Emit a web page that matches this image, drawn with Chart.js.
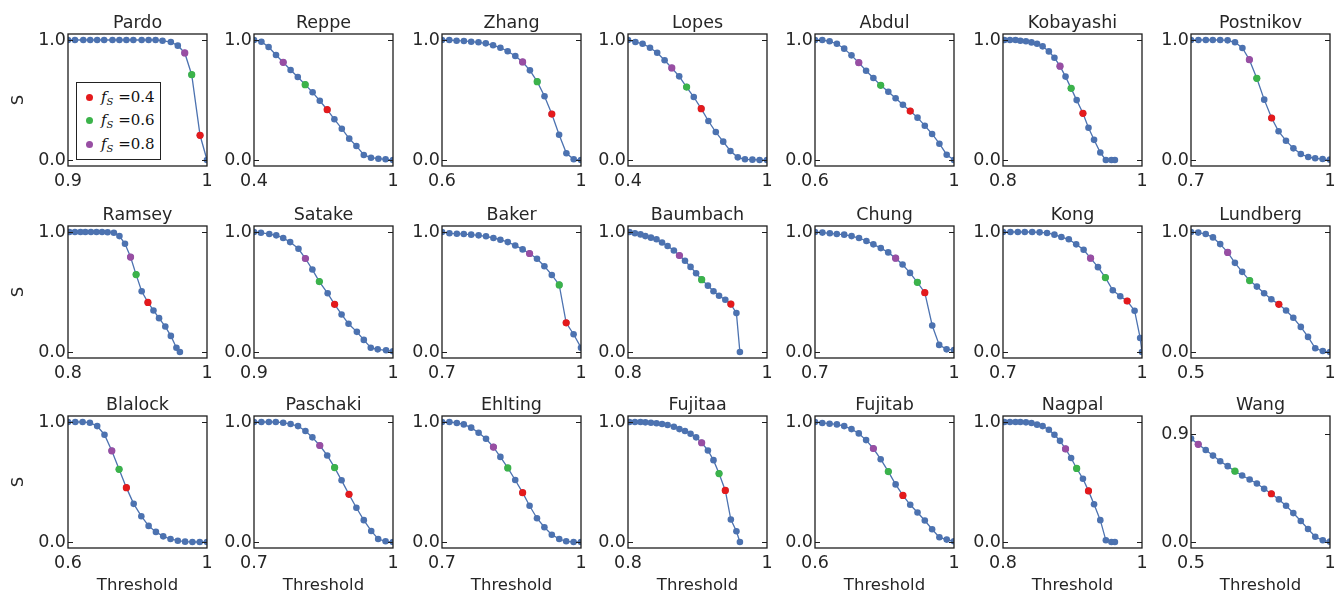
<!DOCTYPE html>
<html>
<head>
<meta charset="utf-8">
<script src="https://cdn.jsdelivr.net/npm/chart.js@4.4.0/dist/chart.umd.min.js"></script>
<style>
body { margin: 0; background: #fff; }
#fig { position: relative; width: 1336px; height: 594px; overflow: hidden; }
#fig canvas { position: absolute; }
.legend { position: absolute; left: 76px; top: 82px; width: 85px; height: 78px; box-sizing: border-box;
          border: 1px solid #222; background: #fff; font-family: "DejaVu Serif", serif; font-size: 15px; color: #111; z-index: 5; }
.legend .row { position: absolute; left: 0; height: 20px; line-height: 20px; white-space: nowrap; }
.legend .dot { position: absolute; left: 9px; top: 6.5px; width: 7px; height: 7px; border-radius: 50%; }
.legend .lab { position: absolute; left: 24px; }
.legend sub { font-size: 10px; font-style: italic; vertical-align: -3px; }
</style>
</head>
<body>
<div id="fig">
  <div class="legend">
    <div class="row" style="top:4px"><span class="dot" style="background:#e41a1c"></span><span class="lab"><i>f</i><sub>S</sub> =0.4</span></div>
    <div class="row" style="top:27px"><span class="dot" style="background:#3bb34a"></span><span class="lab"><i>f</i><sub>S</sub> =0.6</span></div>
    <div class="row" style="top:51px"><span class="dot" style="background:#984ea3"></span><span class="lab"><i>f</i><sub>S</sub> =0.8</span></div>
  </div>
</div>
<script>
// panel names, row by row
var names = ["Pardo", "Reppe", "Zhang", "Lopes", "Abdul", "Kobayashi", "Postnikov",
             "Ramsey", "Satake", "Baker", "Baumbach", "Chung", "Kong", "Lundberg",
             "Blalock", "Paschaki", "Ehlting", "Fujitaa", "Fujitab", "Nagpal", "Wang"];

// left end of each threshold axis
var xmins = [0.9, 0.4, 0.6, 0.4, 0.6, 0.8, 0.7,
             0.8, 0.9, 0.7, 0.8, 0.7, 0.7, 0.5,
             0.6, 0.7, 0.7, 0.8, 0.6, 0.8, 0.5];

// top y tick of each panel
var yTop = [1.0, 1.0, 1.0, 1.0, 1.0, 1.0, 1.0,
            1.0, 1.0, 1.0, 1.0, 1.0, 1.0, 1.0,
            1.0, 1.0, 1.0, 1.0, 1.0, 1.0, 0.9];

// threshold values
var x04 = [0.4, 0.432, 0.463, 0.495, 0.526, 0.558, 0.589, 0.621, 0.653, 0.684, 0.716, 0.747, 0.779, 0.811, 0.842, 0.874, 0.905, 0.937, 0.968, 1.0];
var x05 = [0.5, 0.526, 0.553, 0.579, 0.605, 0.632, 0.658, 0.684, 0.711, 0.737, 0.763, 0.789, 0.816, 0.842, 0.868, 0.895, 0.921, 0.947, 0.974, 1.0];
var x06 = [0.6, 0.621, 0.642, 0.663, 0.684, 0.705, 0.726, 0.747, 0.768, 0.789, 0.811, 0.832, 0.853, 0.874, 0.895, 0.916, 0.937, 0.958, 0.979, 1.0];
var x07 = [0.7, 0.716, 0.732, 0.747, 0.763, 0.779, 0.795, 0.811, 0.826, 0.842, 0.858, 0.874, 0.889, 0.905, 0.921, 0.937, 0.953, 0.968, 0.984, 1.0];
var x08 = [0.802, 0.810, 0.818, 0.825, 0.833, 0.841, 0.849, 0.857, 0.866, 0.874, 0.882, 0.890, 0.898, 0.906, 0.915, 0.923, 0.931, 0.940, 0.948, 0.956, 0.961];
var x09 = [0.9, 0.905, 0.911, 0.916, 0.921, 0.926, 0.932, 0.937, 0.942, 0.947, 0.953, 0.958, 0.963, 0.968, 0.974, 0.979, 0.984, 0.989, 0.995, 1.0];
var xKong = [0.7, 0.716, 0.732, 0.747, 0.763, 0.779, 0.795, 0.811, 0.826, 0.842, 0.858, 0.874, 0.889, 0.905, 0.921, 0.937, 0.953, 0.968, 0.984, 0.996, 1.0];

// S at each threshold
var sPardo     = [1, 1, 1, 1, 1, 1, 1, 1, 1, 1, 1, 1, 1, 0.994, 0.983, 0.953, 0.892, 0.711, 0.206, 0];
var sReppe     = [1, 0.986, 0.942, 0.875, 0.814, 0.75, 0.692, 0.628, 0.564, 0.494, 0.419, 0.339, 0.261, 0.178, 0.117, 0.042, 0.019, 0.011, 0.006, 0];
var sZhang     = [1, 1, 0.994, 0.992, 0.986, 0.981, 0.972, 0.956, 0.936, 0.906, 0.867, 0.817, 0.747, 0.653, 0.531, 0.383, 0.211, 0.056, 0.006, 0];
var sLopes     = [1, 0.983, 0.969, 0.936, 0.894, 0.831, 0.767, 0.697, 0.608, 0.525, 0.428, 0.325, 0.233, 0.153, 0.075, 0.022, 0.006, 0.003, 0, 0];
var sAbdul     = [1, 1, 0.989, 0.969, 0.928, 0.872, 0.811, 0.744, 0.683, 0.622, 0.569, 0.514, 0.461, 0.408, 0.353, 0.286, 0.217, 0.136, 0.044, 0];
var sKobayashi = [1, 1, 1, 0.994, 0.989, 0.98, 0.969, 0.947, 0.905, 0.852, 0.782, 0.695, 0.597, 0.499, 0.389, 0.269, 0.168, 0.062, 0, 0, 0];
var sPostnikov = [1, 1, 1, 1, 1, 0.997, 0.981, 0.933, 0.836, 0.681, 0.503, 0.35, 0.239, 0.161, 0.097, 0.05, 0.025, 0.014, 0.008, 0.003];
var sRamsey    = [1, 1, 1, 1, 1, 1, 1, 0.998, 0.994, 0.966, 0.902, 0.791, 0.645, 0.506, 0.413, 0.346, 0.282, 0.212, 0.134, 0.036, 0];
var sSatake    = [1, 0.994, 0.983, 0.972, 0.95, 0.916, 0.86, 0.779, 0.687, 0.587, 0.489, 0.397, 0.313, 0.235, 0.168, 0.101, 0.036, 0.022, 0.014, 0.006];
var sBaker     = [1, 0.989, 0.986, 0.983, 0.978, 0.972, 0.964, 0.95, 0.936, 0.916, 0.888, 0.855, 0.821, 0.777, 0.715, 0.642, 0.559, 0.243, 0.148, 0.036];
var sBaumbach  = [1, 0.989, 0.98, 0.966, 0.953, 0.939, 0.913, 0.883, 0.846, 0.804, 0.76, 0.709, 0.656, 0.603, 0.553, 0.506, 0.469, 0.436, 0.399, 0.324, 0];
var sChung     = [1, 0.995, 0.989, 0.983, 0.978, 0.966, 0.95, 0.925, 0.897, 0.866, 0.83, 0.782, 0.729, 0.659, 0.581, 0.494, 0.221, 0.059, 0.022, 0.017];
var sKong      = [1, 1, 1, 1, 1, 0.997, 0.992, 0.978, 0.958, 0.939, 0.897, 0.852, 0.782, 0.707, 0.62, 0.514, 0.464, 0.425, 0.344, 0.117, 0];
var sLundberg  = [1, 0.995, 0.983, 0.955, 0.899, 0.83, 0.743, 0.668, 0.595, 0.545, 0.489, 0.439, 0.397, 0.346, 0.285, 0.209, 0.126, 0.031, 0.008, 0];
var sBlalock   = [1, 1, 1, 0.994, 0.966, 0.894, 0.76, 0.606, 0.453, 0.318, 0.215, 0.134, 0.084, 0.047, 0.025, 0.011, 0.003, 0, 0, 0];
var sPaschaki  = [1, 1, 1, 1, 0.994, 0.983, 0.966, 0.925, 0.872, 0.804, 0.721, 0.62, 0.514, 0.397, 0.285, 0.182, 0.092, 0.025, 0.006, 0];
var sEhlting   = [1, 1, 0.992, 0.98, 0.953, 0.911, 0.86, 0.791, 0.709, 0.617, 0.517, 0.411, 0.302, 0.198, 0.123, 0.061, 0.025, 0.006, 0, 0];
var sFujitaa   = [1, 1, 1, 0.997, 0.994, 0.989, 0.983, 0.975, 0.961, 0.941, 0.925, 0.902, 0.872, 0.827, 0.763, 0.682, 0.57, 0.43, 0.187, 0.089, 0];
var sFujitab   = [1, 0.992, 0.986, 0.98, 0.966, 0.941, 0.905, 0.849, 0.779, 0.69, 0.587, 0.48, 0.388, 0.31, 0.246, 0.179, 0.106, 0.039, 0.02, 0.006];
var sNagpal    = [1, 1, 1, 1, 0.997, 0.992, 0.978, 0.966, 0.936, 0.894, 0.843, 0.776, 0.7, 0.613, 0.527, 0.426, 0.314, 0.182, 0.014, 0, 0];
var sWang      = [0.862, 0.814, 0.767, 0.72, 0.673, 0.632, 0.59, 0.554, 0.521, 0.488, 0.443, 0.402, 0.355, 0.302, 0.241, 0.175, 0.108, 0.044, 0.014, 0.003];

// which point of each curve belongs to f_S = 0.4 / 0.6 / 0.8
var redIdx    = [18, 10, 15, 10, 13, 14, 11, 14, 11, 17, 18, 15, 17, 12, 8, 13, 11, 17, 12, 15, 11];
var greenIdx  = [17, 7, 13, 8, 9, 12, 9, 12, 9, 16, 13, 14, 14, 8, 7, 11, 9, 16, 10, 13, 6];
var purpleIdx = [16, 4, 11, 6, 6, 10, 8, 11, 7, 12, 9, 11, 12, 5, 6, 9, 7, 13, 8, 11, 1];

var xGrid = [x09, x04, x06, x04, x06, x08, x07,
             x08, x09, x07, x08, x07, xKong, x05,
             x06, x07, x07, x08, x06, x08, x05];
var sValues = [sPardo, sReppe, sZhang, sLopes, sAbdul, sKobayashi, sPostnikov,
               sRamsey, sSatake, sBaker, sBaumbach, sChung, sKong, sLundberg,
               sBlalock, sPaschaki, sEhlting, sFujitaa, sFujitab, sNagpal, sWang];

var blue = '#4c72b0', red = '#e41a1c', green = '#3bb34a', purple = '#984ea3';
var ink = '#262626';
var colLeft = [0, 186, 374, 560, 747, 935, 1123];
var rowTop = [0, 192, 382];

// box around the plot area, inward ticks and the panel name
var panelFrame = {
    id: 'panelFrame',
    afterDatasetsDraw: function(chart, args, opts) {
        var a = chart.chartArea, ctx = chart.ctx, ys = chart.scales.y;
        ctx.save();
        ctx.strokeStyle = '#1e1e1e';
        ctx.lineWidth = 1.3;
        ctx.strokeRect(a.left, a.top, a.right - a.left, a.bottom - a.top);
        ctx.lineWidth = 1;
        ys.ticks.forEach(function(t) {
            var py = Math.round(ys.getPixelForValue(t.value)) + 0.5;
            ctx.beginPath();
            ctx.moveTo(a.left, py); ctx.lineTo(a.left + 5, py);
            ctx.moveTo(a.right, py); ctx.lineTo(a.right - 5, py);
            ctx.stroke();
        });
        ctx.fillStyle = ink;
        ctx.font = '17.5px "DejaVu Sans"';
        ctx.textAlign = 'center';
        ctx.textBaseline = 'alphabetic';
        ctx.fillText(opts.text, (a.left + a.right) / 2, a.top - 6);
        ctx.restore();
    }
};

function makePanel(k) {
    var col = k % 7, row = Math.floor(k / 7);
    var xs = xGrid[k], ys = sValues[k], xmin = xmins[k], top = yTop[k];
    var pts = xs.map(function(x, i) { return {x: x, y: ys[i]}; });
    function mark(i) { return [{x: xs[i], y: ys[i]}]; }
    function marker(i, c) {
        return {data: mark(i), showLine: false, pointRadius: 3.6, pointBorderWidth: 0,
                pointBackgroundColor: c, backgroundColor: c, borderColor: c, clip: 0, order: 1};
    }

    var cv = document.createElement('canvas');
    cv.width = 221; cv.height = 216;
    cv.style.left = colLeft[col] + 'px';
    cv.style.top = rowTop[row] + 'px';
    document.getElementById('fig').appendChild(cv);

    var tickFont = {family: 'DejaVu Sans', size: 17.5};

    new Chart(cv, {
        type: 'line',
        data: {
            datasets: [
                {data: pts, borderColor: blue, backgroundColor: blue, borderWidth: 1.3,
                 pointRadius: 3.3, pointBorderWidth: 0, pointBackgroundColor: blue,
                 tension: 0, clip: 0, order: 2},
                marker(redIdx[k], red),
                marker(greenIdx[k], green),
                marker(purpleIdx[k], purple)
            ]
        },
        options: {
            responsive: false,
            animation: false,
            devicePixelRatio: 1,
            layout: {padding: {top: 34, right: 14, left: 0, bottom: 0}},
            plugins: {
                legend: {display: false},
                tooltip: {enabled: false},
                panelFrame: {text: names[k]}
            },
            scales: {
                x: {
                    type: 'linear', min: xmin, max: 1,
                    grid: {display: false, drawTicks: false},
                    border: {display: false},
                    afterFit: function(s) { s.height = 50; },
                    afterBuildTicks: function(s) { s.ticks = [{value: xmin}, {value: 1}]; },
                    ticks: {
                        autoSkip: false, maxRotation: 0, padding: 5, color: ink, font: tickFont,
                        callback: function(v) { return v === 1 ? '1' : v.toFixed(1); }
                    },
                    title: {display: row === 2, text: 'Threshold', color: ink,
                            font: {family: 'DejaVu Sans', size: 16.5}, padding: {top: 0, bottom: 2}}
                },
                y: {
                    type: 'linear', min: -0.05, max: 1.05,
                    grid: {display: false, drawTicks: false},
                    border: {display: false},
                    afterFit: function(s) { s.width = 68; },
                    afterBuildTicks: function(s) { s.ticks = [{value: 0}, {value: top}]; },
                    ticks: {
                        autoSkip: false, padding: 2, color: ink, font: tickFont,
                        callback: function(v) { return v.toFixed(1); }
                    },
                    title: {display: col === 0, text: 'S', color: ink,
                            font: {family: 'DejaVu Sans', size: 16.5}, padding: {top: 9, bottom: 0}}
                }
            }
        },
        plugins: [panelFrame]
    });
}

for (var k = 0; k < names.length; k++) {
    makePanel(k);
}
</script>
</body>
</html>
